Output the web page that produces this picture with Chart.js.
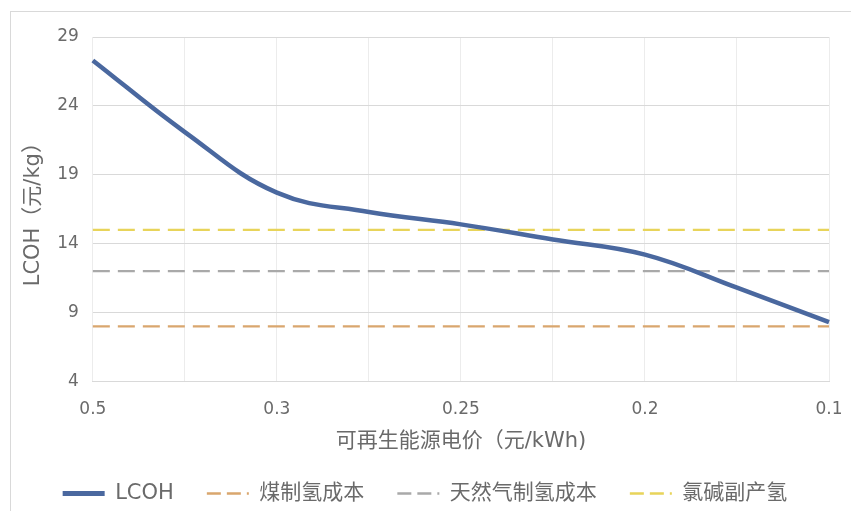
<!DOCTYPE html>
<html>
<head>
<meta charset="utf-8">
<script src="https://cdn.jsdelivr.net/npm/chart.js@4"></script>
<style>
	html, body { margin: 0; padding: 0; background: #fff; overflow: hidden; }
	.frame { position: absolute; left: 10px; top: 11px; width: 900px; height: 600px; border: 1px solid #d9d9d9; }
	.wrap { position: absolute; left: 0; top: 0; width: 851px; height: 511px; }
</style>
</head>
<body>
<div class="frame"></div>
<div class="wrap"><canvas id="myChart"></canvas></div>
<script>
// chart data
const labels = ['0.5', '0.4', '0.3', '0.275', '0.25', '0.225', '0.2', '0.15', '0.1'];
const lcoh = [27.3, 22.1, 17.7, 16.3, 15.4, 14.3, 13.2, 10.8, 8.3];
const coal = [8, 8, 8, 8, 8, 8, 8, 8, 8];
const gas = [12, 12, 12, 12, 12, 12, 12, 12, 12];
const chlorAlkali = [15, 15, 15, 15, 15, 15, 15, 15, 15];
const yTicks = [4, 9, 14, 19, 24, 29];

const COLORS = {
	blue: '#4a689f',
	orange: '#d9a66e',
	grey: '#a9a9a9',
	yellow: '#e8d45a',
	text: '#6a6a6a'
};
const FONT = '"DejaVu Sans", "Noto Sans CJK SC", sans-serif';

const ctx = document.getElementById('myChart');

const dashed = (label, data, color) => ({
	label,
	data,
	borderColor: color,
	backgroundColor: color,
	borderWidth: 2.2,
	borderDash: [17, 8],
	pointRadius: 0,
	tension: 0
});

new Chart(ctx, {
	type: 'line',
	data: {
		labels: labels,
		datasets: [
			{
				label: 'LCOH',
				data: lcoh,
				borderColor: COLORS.blue,
				backgroundColor: COLORS.blue,
				borderWidth: 4.5,
				pointRadius: 0,
				tension: 0.4
			},
			dashed('煤制氢成本', coal, COLORS.orange),
			dashed('天然气制氢成本', gas, COLORS.grey),
			dashed('氯碱副产氢', chlorAlkali, COLORS.yellow)
		]
	},
	options: {
		responsive: true,
		maintainAspectRatio: false,
		animation: false,
		layout: {
			padding: { top: 37, right: 22, bottom: -3, left: 21 }
		},
		plugins: {
			tooltip: { enabled: false },
			legend: {
				position: 'bottom',
				labels: {
					usePointStyle: true,
					pointStyle: 'line',
					pointStyleWidth: 42,
					padding: 33,
					color: COLORS.text,
					font: { size: 21, family: FONT },
					// point style legend reads the point, so take the line look from the dataset
					generateLabels: (chart) => Chart.defaults.plugins.legend.labels.generateLabels(chart).map(item => {
						const ds = chart.data.datasets[item.datasetIndex];
						item.lineWidth = ds.borderWidth + 0.5;
						item.strokeStyle = ds.borderColor;
						item.lineDash = ds.borderDash ? [14, 6] : [];
						return item;
					})
				}
			}
		},
		scales: {
			x: {
				offset: false,
				grid: { color: '#ececec', drawTicks: false },
				border: { color: '#d9d9d9' },
				// last tick label may hang over the right edge
				afterFit: (scale) => { scale.paddingRight = 0; },
				ticks: {
					autoSkip: false,
					maxRotation: 0,
					padding: 18,
					color: COLORS.text,
					font: { size: 17, family: FONT },
					callback: (value, index) => index % 2 === 0 ? labels[index] : ''
				},
				title: {
					display: true,
					text: '可再生能源电价（元/kWh)',
					color: COLORS.text,
					font: { size: 21, family: FONT },
					padding: { top: -9, bottom: -4 }
				}
			},
			y: {
				min: yTicks[0],
				max: yTicks[yTicks.length - 1],
				afterBuildTicks: (axis) => { axis.ticks = yTicks.map(v => ({ value: v })); },
				grid: { color: '#d9d9d9', drawTicks: false },
				border: { display: false },
				ticks: {
					padding: 14,
					color: COLORS.text,
					font: { size: 17, family: FONT }
				},
				title: {
					display: true,
					text: 'LCOH（元/kg）',
					color: COLORS.text,
					font: { size: 21, family: FONT },
					padding: { top: 0, bottom: -3 }
				}
			}
		}
	}
});
</script>
</body>
</html>
